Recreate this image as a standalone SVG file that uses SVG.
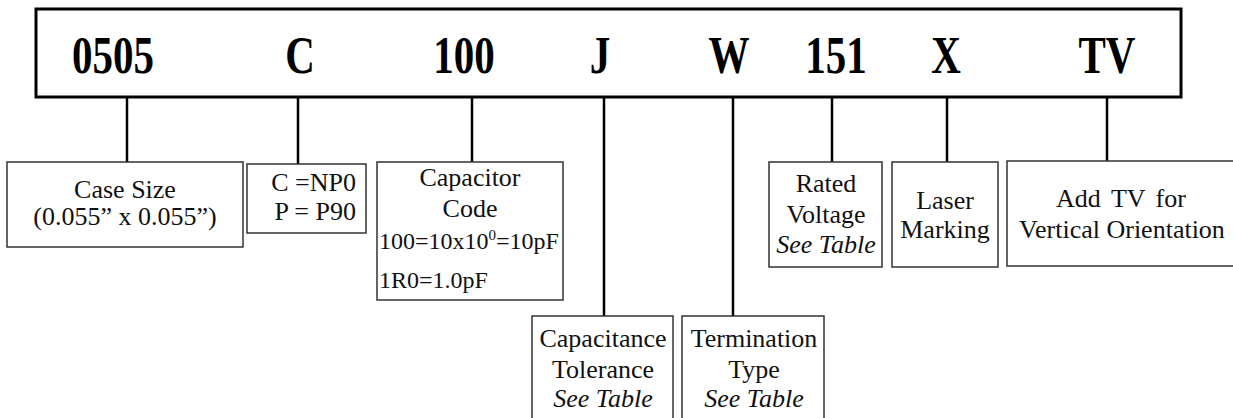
<svg xmlns="http://www.w3.org/2000/svg" width="1233" height="418" viewBox="0 0 1233 418">
<style>
.bar{fill:#fff;stroke:#000;stroke-width:3}
.code{font-family:"Liberation Serif","Times New Roman",serif;font-weight:bold;font-size:41px;fill:#000;text-anchor:middle}
.box{fill:#fff;stroke:#333;stroke-width:1.5}
.t{font-family:"Liberation Serif","Times New Roman",serif;font-size:26px;fill:#111;text-anchor:middle}
.s{font-size:24px;text-anchor:start}
.i{font-style:italic}
.conn line{stroke:#000;stroke-width:2.5}
</style>
<rect width="1233" height="418" fill="#fff"/>
<g id="partnumber">
<rect class="bar" x="36" y="9" width="1145" height="88"/>
<g transform="translate(0,73) scale(1,1.27)">
<text class="code" x="113" y="0">0505</text>
<text class="code" x="300" y="0">C</text>
<text class="code" x="464" y="0">100</text>
<text class="code" x="600" y="0">J</text>
<text class="code" x="729" y="0">W</text>
<text class="code" x="836" y="0">151</text>
<text class="code" x="946" y="0">X</text>
<text class="code" x="1107" y="0">TV</text>
</g>
</g>
<g id="connectors" class="conn">
<line x1="127" y1="97" x2="127" y2="162"/>
<line x1="298" y1="97" x2="298" y2="164"/>
<line x1="472" y1="97" x2="472" y2="162"/>
<line x1="604" y1="97" x2="604" y2="316"/>
<line x1="733" y1="97" x2="733" y2="316"/>
<line x1="832" y1="97" x2="832" y2="162"/>
<line x1="947" y1="97" x2="947" y2="162"/>
<line x1="1107" y1="97" x2="1107" y2="161"/>
</g>
<g id="case-size">
<rect class="box" x="7" y="162" width="236" height="85"/>
<text class="t" x="125" y="197.5">Case Size</text>
<text class="t" x="125" y="224.5">(0.055” x 0.055”)</text>
</g>
<g id="dielectric">
<rect class="box" x="247" y="164" width="119" height="69"/>
<text class="t" x="356" y="191" style="text-anchor:end">C =NP0</text>
<text class="t" x="356" y="220" style="text-anchor:end">P = P90</text>
</g>
<g id="capacitor-code">
<rect class="box" x="377" y="162" width="186" height="138"/>
<text class="t" x="470" y="186">Capacitor</text>
<text class="t" x="470" y="217">Code</text>
<text class="t s" x="379" y="249">100=10x10<tspan font-size="15" dy="-9">0</tspan><tspan dy="9">=10pF</tspan></text>
<text class="t s" x="379" y="288">1R0=1.0pF</text>
</g>
<g id="tolerance">
<rect class="box" x="532" y="316" width="141" height="110"/>
<text class="t" x="603" y="347">Capacitance</text>
<text class="t" x="603" y="378">Tolerance</text>
<text class="t i" x="603" y="407">See Table</text>
</g>
<g id="termination">
<rect class="box" x="682" y="316" width="142" height="110"/>
<text class="t" x="754" y="347">Termination</text>
<text class="t" x="754" y="378">Type</text>
<text class="t i" x="754" y="407">See Table</text>
</g>
<g id="rated-voltage">
<rect class="box" x="769" y="162" width="113" height="105"/>
<text class="t" x="826" y="192">Rated</text>
<text class="t" x="826" y="223">Voltage</text>
<text class="t i" x="826" y="253">See Table</text>
</g>
<g id="laser-marking">
<rect class="box" x="892" y="162" width="106" height="105"/>
<text class="t" x="945" y="209">Laser</text>
<text class="t" x="945" y="238">Marking</text>
</g>
<g id="vertical-orientation">
<rect class="box" x="1007" y="161" width="240" height="105"/>
<text class="t" x="1121" y="207" word-spacing="4">Add TV for</text>
<text class="t" x="1122" y="238">Vertical Orientation</text>
</g>
</svg>
